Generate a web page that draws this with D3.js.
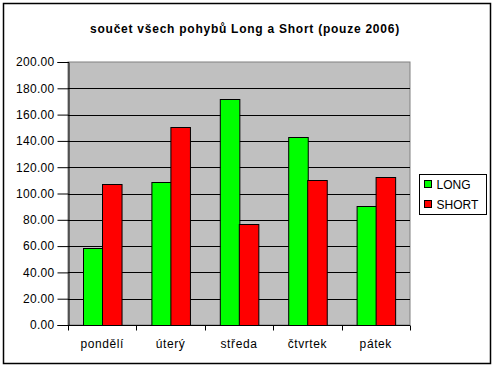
<!DOCTYPE html>
<html>
<head>
<meta charset="utf-8">
<script src="https://cdn.jsdelivr.net/npm/d3@7"></script>
<style>
  body { margin: 0; background: #fff; }
  text { font-family: Arial, "Liberation Sans", sans-serif; fill: #000; }
</style>
</head>
<body>
<script>
// data
var days = ["pondělí", "úterý", "středa", "čtvrtek", "pátek"];
var longValues = [58.6, 108.7, 171.9, 143.0, 90.7];
var shortValues = [107.2, 150.6, 77.0, 110.3, 112.5];
var seriesNames = ["LONG", "SHORT"];
var seriesColors = ["#00ff00", "#ff0000"];
var yTicks = [0, 20, 40, 60, 80, 100, 120, 140, 160, 180, 200];

var width = 495, height = 369,
  plot = { left: 68, right: 410, top: 62, bottom: 325 };

var svg = d3.select("body").append("svg")
  .attr("width", width)
  .attr("height", height);

// outer frame
svg.append("rect")
  .attr("x", 3.5).attr("y", 3.5)
  .attr("width", 487).attr("height", 360)
  .attr("fill", "#fff")
  .attr("stroke", "#000")
  .attr("stroke-width", 1.5);

// title
svg.append("text")
  .attr("x", 245).attr("y", 33)
  .attr("text-anchor", "middle")
  .style("font-size", "12px")
  .style("font-weight", "bold")
  .style("letter-spacing", "0.75px")
  .text("součet všech pohybů Long a Short (pouze 2006)");

var x0 = d3.scaleBand()
  .domain(days)
  .range([plot.left, plot.right]);

var x1 = d3.scaleBand()
  .domain(seriesNames)
  .range([0, x0.bandwidth()])
  .paddingOuter(0.75)
  .paddingInner(0);

var y = d3.scaleLinear()
  .domain([0, 200])
  .range([plot.bottom, plot.top]);

// plot background
svg.append("rect")
  .attr("x", plot.left).attr("y", plot.top)
  .attr("width", plot.right - plot.left)
  .attr("height", plot.bottom - plot.top)
  .attr("fill", "#c0c0c0")
  .attr("stroke", "#808080")
  .attr("stroke-width", 1);

// gridlines
svg.append("g")
  .selectAll("line")
  .data(yTicks.filter(d => d > 0 && d < 200))
  .join("line")
  .attr("x1", plot.left).attr("x2", plot.right)
  .attr("y1", d => Math.round(y(d)) + 0.5)
  .attr("y2", d => Math.round(y(d)) + 0.5)
  .attr("stroke", "#000");

// bars
var rows = days.map(function (d, i) {
  return { day: d, values: [longValues[i], shortValues[i]] };
});

svg.append("g")
  .selectAll("g")
  .data(rows)
  .join("g")
  .attr("transform", d => "translate(" + x0(d.day) + ",0)")
  .selectAll("rect")
  .data(d => d.values.map((v, j) => ({ key: seriesNames[j], value: v, color: seriesColors[j] })))
  .join("rect")
  .attr("x", d => Math.round(x1(d.key)) + 0.5)
  .attr("y", d => Math.round(y(d.value)) + 0.5)
  .attr("width", x1.bandwidth())
  .attr("height", d => plot.bottom - Math.round(y(d.value)))
  .attr("fill", d => d.color)
  .attr("stroke", "#000")
  .attr("stroke-width", 1);

// y axis
var yAxis = d3.axisLeft(y)
  .tickValues(yTicks)
  .tickSize(11)
  .tickPadding(3)
  .tickFormat(d3.format(".2f"));

svg.append("g")
  .attr("transform", "translate(" + (plot.left + 0.5) + ",0)")
  .call(yAxis)
  .call(g => g.selectAll("text").style("font-size", "12px").style("letter-spacing", "0.3px"))
  .call(g => g.selectAll("line,path").attr("stroke", "#000"));

// x axis
svg.append("g")
  .attr("transform", "translate(0," + (plot.bottom + 0.5) + ")")
  .call(g => g.append("line")
    .attr("x1", plot.left).attr("x2", plot.right)
    .attr("stroke", "#000"))
  .call(g => g.selectAll("line.tk")
    .data(d3.range(days.length + 1))
    .join("line")
    .attr("class", "tk")
    .attr("x1", i => Math.round(plot.left + i * x0.step()) + 0.5)
    .attr("x2", i => Math.round(plot.left + i * x0.step()) + 0.5)
    .attr("y1", 0).attr("y2", 5)
    .attr("stroke", "#000"))
  .call(g => g.selectAll("text")
    .data(days)
    .join("text")
    .attr("x", d => x0(d) + x0.bandwidth() / 2)
    .attr("y", 22)
    .attr("text-anchor", "middle")
    .style("font-size", "12px")
    .style("letter-spacing", "0.6px")
    .text(d => d));

// legend
var legend = svg.append("g").attr("transform", "translate(419.5,174.5)");
legend.append("rect")
  .attr("width", 67).attr("height", 40)
  .attr("fill", "#fff")
  .attr("stroke", "#000");

var item = legend.selectAll("g")
  .data(seriesNames)
  .join("g")
  .attr("transform", (d, i) => "translate(5," + (6 + i * 20) + ")");

item.append("rect")
  .attr("width", 7).attr("height", 7)
  .attr("fill", (d, i) => seriesColors[i])
  .attr("stroke", "#000");

item.append("text")
  .attr("x", 12).attr("y", 8)
  .style("font-size", "12px")
  .text(d => d);
</script>
</body>
</html>
